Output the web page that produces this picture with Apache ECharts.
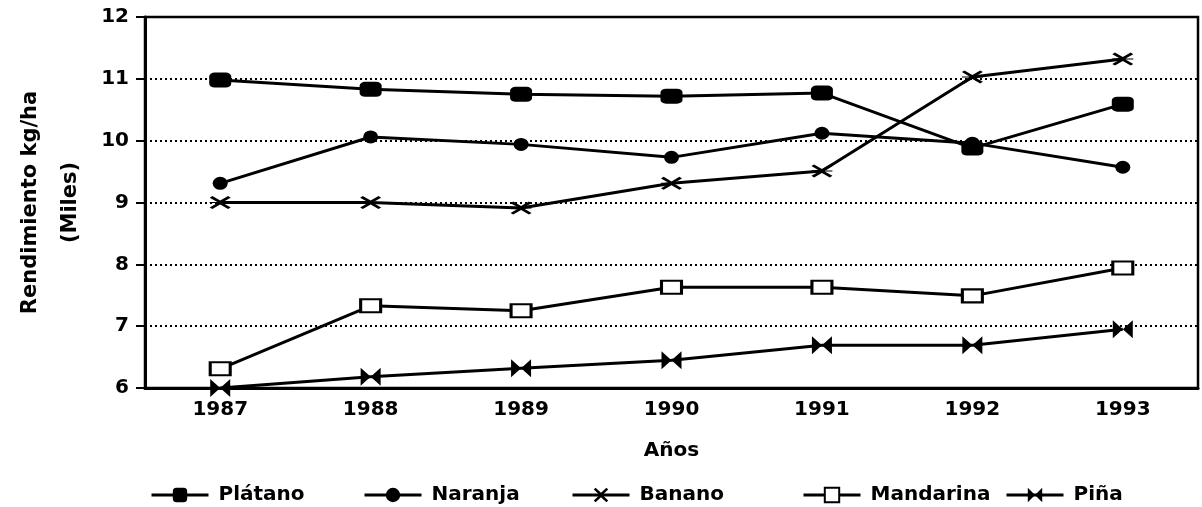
<!DOCTYPE html>
<html>
<head>
<meta charset="utf-8">
<script src="https://cdn.jsdelivr.net/npm/echarts@6/dist/echarts.min.js"></script>
<style>html,body{margin:0;padding:0;background:#fff}#c{width:1202px;height:507px}</style>
</head>
<body>
<div id="c"></div>
<script>
const years = ['1987','1988','1989','1990','1991','1992','1993'];
const yTicks = [6, 12, 1];
const platano = [10.98, 10.83, 10.75, 10.72, 10.77, 9.88, 10.59];
const naranja = [9.31, 10.06, 9.94, 9.73, 10.12, 9.96, 9.57];
const banano = [9.0, 9.0, 8.91, 9.31, 9.51, 11.03, 11.32];
const mandarina = [6.31, 7.33, 7.25, 7.63, 7.63, 7.49, 7.94];
const pina = [6.0, 6.18, 6.32, 6.45, 6.69, 6.69, 6.95];
const names = ['Plátano','Naranja','Banano','Mandarina','Piña'];

const FONT = '"DejaVu Sans", sans-serif';
const xSym = 'path://M0,1.5L1.5,0L6,4.2L10.5,0L12,1.5L7.6,5.5L12,5.5L12,6.5L7.6,6.5L12,10.5L10.5,12L6,7.8L1.5,12L0,10.5L4.4,6.5L0,6.5L0,5.5L4.4,5.5Z';
const bowtie = 'path://M0,0L10,5L0,10ZM20,0L10,5L20,10Z';

function ser(name, data, symbol, size, extra) {
  return Object.assign({
    name, type: 'line', data, symbol, symbolSize: size,
    showAllSymbol: true,
    lineStyle: {color: '#000', width: 3},
    itemStyle: {color: '#000'},
    emphasis: {disabled: true},
    animation: false
  }, extra || {});
}

const legendLefts = [145, 358, 566, 797, 1000];
const legends = names.map((n, i) => ({
  data: [n], left: legendLefts[i], top: 480,
  itemWidth: 57, itemHeight: 18,
  lineStyle: {width: 3, color: '#000'},
  textStyle: {fontFamily: FONT, fontWeight: 'bold', fontSize: 20, color: '#000', padding: [0,0,0,5]},
  selectedMode: false
}));

const option = {
  backgroundColor: '#fff',
  animation: false,
  legend: legends,
  grid: {left: 145, right: 4, top: 17, bottom: 119, show: true, borderColor: '#000', borderWidth: 2.5, backgroundColor: 'transparent', outerBoundsMode: 'none', containLabel: false},
  xAxis: {
    type: 'category', data: years, boundaryGap: true,
    name: 'Años', nameLocation: 'middle', nameGap: 53,
    nameTextStyle: {fontFamily: FONT, fontWeight: 'bold', fontSize: 20, color: '#000'},
    axisLine: {lineStyle: {color: '#000', width: 3}},
    axisTick: {alignWithLabel: true, length: 7, lineStyle: {color: '#000', width: 2}},
    axisLabel: {fontFamily: FONT, fontWeight: 'bold', fontSize: 20, color: '#000', margin: 12},
    splitLine: {show: false}
  },
  yAxis: {
    type: 'value', min: yTicks[0], max: yTicks[1], interval: yTicks[2],
    name: 'Rendimiento kg/ha\n(Miles)', nameLocation: 'middle', nameRotate: 90, nameGap: 54,
    nameTextStyle: {fontFamily: FONT, fontWeight: 'bold', fontSize: 21, color: '#000', lineHeight: 40},
    axisLine: {show: true, lineStyle: {color: '#000', width: 3}},
    axisTick: {show: true, length: 9, lineStyle: {color: '#000', width: 2}},
    axisLabel: {fontFamily: FONT, fontWeight: 'bold', fontSize: 20, color: '#000', margin: 16},
    splitLine: {show: true, lineStyle: {color: '#000', width: 2, type: [2, 3]}}
  },
  series: [
    ser('Plátano', platano, 'roundRect', [22, 15]),
    ser('Naranja', naranja, 'circle', [15, 13]),
    ser('Banano', banano, xSym, [21, 13]),
    ser('Mandarina', mandarina, 'rect', [20, 13], {itemStyle: {color: '#fff', borderColor: '#000', borderWidth: 2.5}}),
    ser('Piña', pina, bowtie, [20, 18])
  ]
};
echarts.init(document.getElementById('c'), null, {renderer: 'canvas'}).setOption(option);
</script>
</body>
</html>
